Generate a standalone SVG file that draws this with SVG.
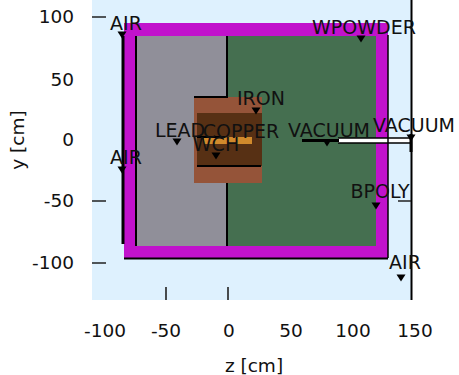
<svg xmlns="http://www.w3.org/2000/svg" width="459" height="375" viewBox="0 0 459 375">
<style>
text{font-family:"DejaVu Sans",sans-serif;font-size:18.500px;fill:#111}
.l{font-size:19px}
.m{text-anchor:middle}
.e{text-anchor:end}
.t{stroke:#222;stroke-width:1.6;fill:none}
.k{stroke:#000;fill:none}
</style>
<defs><path id="tri" d="M-4.500 -3.500H4.500L0 3.500Z"/></defs>
<rect width="459" height="375" fill="#fff"/>
<g id="plot">
<rect x="92" y="0" width="320" height="300" fill="#def1fe"/>
</g>
<g id="shell"><rect x="124" y="23" width="264" height="235" fill="#c112cc"/></g>
<g id="lead"><rect x="136" y="36" width="92" height="210" fill="#908f99"/></g>
<g id="bpoly"><rect x="228" y="36" width="148" height="210" fill="#456f50"/></g>
<g id="iron"><rect x="194" y="97" width="68" height="86" fill="#955439"/></g>
<g id="copper"><rect x="197" y="113" width="65" height="53" fill="#573014"/></g>
<g id="wch"><rect x="204" y="137" width="48" height="7" fill="#d18a2c"/></g>
<g id="vacuum"><rect x="338" y="138" width="73" height="5" fill="#fff"/></g>
<g id="connectors">
<path class="k" stroke-width="2" d="M136 36V246M227 36V97M227 183V246M124 258.500H388"/>
<path class="k" stroke-width="1.500" d="M388 35V258"/>
<path class="k" stroke-width="2" d="M194 97H228M197 166H261M197 137H225"/>
<path class="k" stroke-width="3" d="M123 36V244"/>
<path class="k" stroke-width="3" d="M302 140.500H339"/>
<path class="k" stroke-width="1.400" d="M338 138H411M338 143H411"/>
<path class="k" stroke-width="2" d="M411.500 0V300"/>
<path class="k" stroke-width="3" d="M411 134V152"/>
</g>
<g id="ticks">
<path class="t" d="M92 17H106M92 201H106M92 263H106M398 201H411M166 287V300M228 287V300"/>
</g>
<g id="markers">
<use href="#tri" x="122" y="35"/>
<use href="#tri" x="122" y="170"/>
<use href="#tri" x="177" y="142"/>
<use href="#tri" x="256" y="111"/>
<use href="#tri" x="216" y="156"/>
<use href="#tri" x="327" y="143"/>
<use href="#tri" x="361" y="39"/>
<use href="#tri" x="376" y="206"/>
<use href="#tri" x="401" y="278"/>
<use href="#tri" x="411" y="138"/>
</g>
<g id="labels">
<text class="m l" x="126" y="30">AIR</text>
<text class="m l" x="364" y="34">WPOWDER</text>
<text class="m l" x="261" y="105">IRON</text>
<text class="m l" x="180" y="137">LEAD</text>
<text class="m l" x="241" y="138">COPPER</text>
<text class="m l" x="216" y="151">WCH</text>
<text class="m l" x="329" y="137">VACUUM</text>
<text class="m l" x="414" y="132">VACUUM</text>
<text class="m l" x="126" y="164">AIR</text>
<text class="m l" x="380" y="198">BPOLY</text>
<text class="m l" x="405" y="269">AIR</text>
</g>
<g id="axes">
<text class="e" x="74" y="23">100</text>
<text class="e" x="74" y="86">50</text>
<text class="e" x="74" y="146">0</text>
<text class="e" x="74" y="207">-50</text>
<text class="e" x="74" y="269">-100</text>
<text class="m" x="105" y="337">-100</text>
<text class="m" x="166" y="337">-50</text>
<text class="m" x="229" y="337">0</text>
<text class="m" x="291" y="337">50</text>
<text class="m" x="353" y="337">100</text>
<text class="m" x="415" y="337">150</text>
<text class="m" x="254" y="372">z [cm]</text>
<text class="m" transform="translate(24 140) rotate(-90)">y [cm]</text>
</g>
</svg>
